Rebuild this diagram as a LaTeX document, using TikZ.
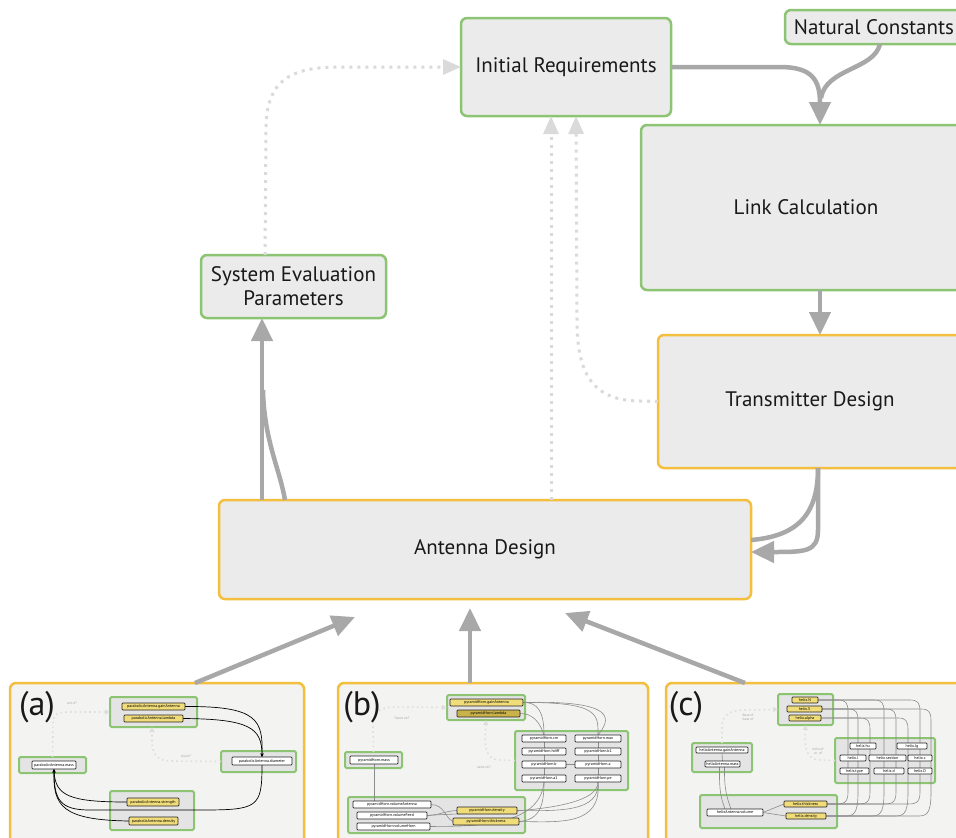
\documentclass[tikz,border=0pt]{standalone}
\usepackage{fontspec}
\setmainfont{PT Sans}
\usetikzlibrary{arrows.meta}
\definecolor{boxfill}{HTML}{EBEBEB}
\definecolor{grn}{HTML}{8CC474}
\definecolor{org}{HTML}{F4BE3E}
\definecolor{arr}{HTML}{A8A8A8}
\definecolor{dotc}{HTML}{DADADA}
\definecolor{pfill}{HTML}{F3F3F1}
\definecolor{gfill}{HTML}{E4E4E4}
\definecolor{ylw}{HTML}{F0DC78}
\definecolor{dylw}{HTML}{C9B24A}
\pgfdeclarelayer{back}
\pgfdeclarelayer{lines}
\pgfsetlayers{back,lines,main}
\newcommand{\pbox}[7]{%
  \pgfmathsetmacro\pbcx{(#3+#5)/2}%
  \pgfmathsetmacro\pbcy{(#4+#6)/2}%
  \pgfmathsetmacro\pbw{#5-#3}%
  \pgfmathsetmacro\pbh{#6-#4}%
  \node[#1, minimum width=\pbw pt, minimum height=\pbh pt, inner sep=0pt, outer sep=0pt] (#2) at (\pbcx,\pbcy) {#7};}
\begin{document}
\begin{tikzpicture}[x=1pt,y=-1pt,
  mainG/.style={draw=grn, line width=2.5pt, fill=boxfill, rounded corners=6pt, font=\fontsize{21}{24}\selectfont, text=black!90, align=center},
  mainO/.style={mainG, draw=org},
  panel/.style={draw=org, line width=2.5pt, fill=pfill, rounded corners=6pt},
  grp/.style={draw=grn, line width=2pt, fill=gfill, rounded corners=1.5pt},
  yn/.style={draw=black!85, line width=0.7pt, fill=ylw, rounded corners=0.8pt, font=\fontsize{4}{4}\selectfont},
  dyn/.style={yn, fill=dylw},
  wn/.style={yn, fill=white},
  flow/.style={draw=arr, line width=4.5pt, -{Triangle[length=23pt,width=21pt]}},
  flowline/.style={draw=arr, line width=4.5pt},
  dots/.style={draw=dotc, line width=3pt, dash pattern=on 3pt off 5pt, -{Triangle[length=18pt,width=15pt]}},
  blk/.style={draw=black, line width=0.7pt, -{Stealth[length=3.5pt,width=3pt]}},
  gry/.style={draw=black!45, line width=0.6pt},
  pd/.style={draw=black!13, line width=1.6pt, dash pattern=on 1.6pt off 3.2pt, -{Triangle[length=5pt,width=5pt]}},
  plbl/.style={font=\fontsize{3.5}{4}\selectfont, text=black!35, align=center},
  big/.style={font=\fontsize{34}{34}\selectfont, text=black!90}]
\begin{pgfonlayer}{back}
\clip (0,0) rectangle (956,838);
\fill[white] (0,0) rectangle (956,838);
\end{pgfonlayer}
\clip (0,0) rectangle (956,838);

% ---------- main boxes ----------
\pbox{mainG}{IR}{461}{18}{671}{116}{Initial Requirements}
\pbox{mainG}{NC}{785}{10}{963}{44}{Natural Constants}
\pbox{mainG}{LC}{641}{125}{971}{290}{Link Calculation}
\pbox{mainO}{TD}{658}{335}{962}{468}{Transmitter Design}
\pbox{mainG}{SE}{201}{255}{386}{318}{System Evaluation\\Parameters}
\pbox{mainO}{AD}{219}{500}{751}{599}{Antenna Design}

% ---------- main connectors ----------
\draw[flow] (IR.east) -- (780,67) .. controls (812,67) and (820,80) .. ([xshift=14pt]LC.north);
\draw[flowline] ([xshift=6pt]NC.south) .. controls (874,70) and (826,68) .. (821,98);
\draw[flow] ([xshift=14pt]LC.south) -- ([xshift=10pt]TD.north);
\draw[flowline] ([xshift=8pt]TD.south) .. controls (818,512) and (800,536) .. ([yshift=9.5pt]AD.east);
\draw[flow] ([xshift=8pt]TD.south) -- (818,530) .. controls (818,552) and (805,552) .. ([yshift=-2.5pt]AD.east);
\draw[flow] ([xshift=-223pt]AD.north) -- ([xshift=-31.5pt]SE.south);
\draw[flowline] ([xshift=-200pt]AD.north) .. controls (280,470) and (264,440) .. (263,390);

\draw[dots] ([xshift=-28.5pt]SE.north) -- (266,130) .. controls (266,80) and (290,67) .. (340,67) -- (IR.west);
\draw[dots] ([xshift=66pt]AD.north) -- ([xshift=-15pt]IR.south);
\draw[dots] (TD.west) -- (640,401) .. controls (590,401) and (577,370) .. (577,320) -- ([xshift=10pt]IR.south);

% ---------- panels ----------
\begin{pgfonlayer}{back}
\pbox{panel}{pa}{10}{683}{304}{850}{}
\pbox{panel}{pb}{338}{683}{648}{850}{}
\pbox{panel}{pc}{666}{683}{990}{850}{}
\pbox{grp}{aT}{110}{697}{197}{727}{}
\pbox{grp}{aR}{221}{751}{296}{772}{}
\pbox{grp}{aL}{19}{757}{86}{773}{}
\pbox{grp}{aB}{110}{791}{194}{830}{}
\pbox{grp}{bT}{447}{695}{525}{720}{}
\pbox{grp}{bR}{515}{731}{628}{790}{}
\pbox{grp}{bL}{345}{752}{402}{768}{}
\pbox{grp}{bB}{348}{797}{525}{833}{}
\pbox{grp}{cT}{778}{694}{833}{725}{}
\pbox{grp}{cL}{692}{743}{752}{772}{}
\pbox{grp}{cR}{835}{738}{935}{783}{}
\pbox{grp}{cB}{700}{795}{837}{828}{}
\end{pgfonlayer}

\draw[flow] ([xshift=38pt]pa.north) -- ([xshift=-130pt,yshift=-18pt]AD.south);
\draw[flow] ([xshift=-23pt]pb.north) -- ([xshift=-15pt,yshift=-9pt]AD.south);
\draw[flow] ([xshift=-83pt]pc.north) -- ([xshift=80pt,yshift=-14pt]AD.south);

\node[big] (la) at (37,707) {(a)};
\node[big] (lb) at (362,707) {(b)};
\node[big] (lc) at (686,707) {(c)};

% ---------- panel (a) ----------
\pbox{yn}{a1}{122}{703}{185}{710}{parabolicAntenna.gainAntenna}
\pbox{yn}{a2}{124}{715}{183}{722}{parabolicAntenna.lambda}
\pbox{wn}{a3}{232}{757}{292}{765}{parabolicAntenna.diameter}
\pbox{wn}{a4}{32}{761}{76}{769}{parabolicAntenna.mass}
\pbox{yn}{a5}{127}{798}{179}{806}{parabolicAntenna.strength}
\pbox{yn}{a6}{129}{817}{178}{825}{parabolicAntenna.density}
\node[plbl] (ta1) at (72,703) {a=b d?};
\node[plbl] (ta2) at (186,756) {d/a=b?};
\begin{pgfonlayer}{lines}
\draw[pd] (aL.north) -- (53,722) .. controls (53,714) and (58,712) .. (70,712) -- (aT.west);
\draw[pd] (aR.west) -- (170,761) .. controls (156,761) and (152,752) .. (152,742) -- ([xshift=-1.5pt]aT.south);
\draw[blk] (a1.east) .. controls (258,706) and (263,720) .. (a3.north);
\draw[blk] (a2.east) .. controls (250,719) and (262,728) .. (a3.north);
\draw[blk] (a3.south) .. controls (262,808) and (258,810) .. (200,810) -- (90,810) .. controls (60,810) and (54,800) .. (a4.south);
\draw[blk] (a5.west) .. controls (70,802) and (55,796) .. (a4.south);
\draw[blk] (a6.west) .. controls (62,820) and (53,806) .. (a4.south);
\end{pgfonlayer}

% ---------- panel (b) ----------
\pbox{yn}{b1}{450}{699}{523}{706}{pyramidHorn.gainAntenna}
\pbox{dyn}{b2}{457}{710}{520}{717}{pyramidHorn.lambda}
\pbox{wn}{b3}{522}{735}{566}{742}{pyramidHorn.cm}
\pbox{wn}{b4}{575}{735}{621}{742}{pyramidHorn.max}
\pbox{wn}{b5}{522}{748}{566}{755}{pyramidHorn.hdiff}
\pbox{wn}{b6}{575}{748}{621}{755}{pyramidHorn.b1}
\pbox{wn}{b7}{522}{761}{566}{768}{pyramidHorn.b}
\pbox{wn}{b8}{575}{761}{621}{768}{pyramidHorn.a}
\pbox{wn}{b9}{522}{775}{566}{782}{pyramidHorn.a1}
\pbox{wn}{b10}{575}{775}{621}{782}{pyramidHorn.pe}
\pbox{wn}{b11}{350}{756}{398}{764}{pyramidHorn.mass}
\pbox{wn}{b12}{353}{801}{431}{808}{pyramidHorn.volumeAntenna}
\pbox{wn}{b13}{357}{812}{427}{819}{pyramidHorn.volumeFeed}
\pbox{wn}{b14}{357}{823}{430}{830}{pyramidHorn.volumeHorn}
\pbox{yn}{b15}{457}{807}{517}{814}{pyramidHorn.density}
\pbox{yn}{b16}{453}{818}{519}{825}{pyramidHorn.thickness}
\node[plbl] (tb1) at (402,718) {frame ok?};
\node[plbl] (tb2) at (484,767) {taste ok?};
\begin{pgfonlayer}{lines}
\draw[pd] (bL.north) -- (373,725) .. controls (373,712) and (380,707) .. (395,707) -- (bT.west);
\draw[pd] (bR.west) -- (500,760) .. controls (488,760) and (485,750) .. (485,738) -- (bT.south);
\draw[gry] (b1.east) .. controls (600,702) and (598,715) .. (b4.north);
\draw[gry] (b1.east) .. controls (538,702) and (544,712) .. (b3.north);
\draw[gry] (b2.east) .. controls (532,713) and (540,722) .. (b3.north);
\draw[gry] (b1.east) .. controls (620,700) and (610,720) .. (b4.north);
\draw[gry] (b3.south) -- (b5.north);
\draw[gry] (b5.south) -- (b7.north);
\draw[gry] (b7.south) -- (b9.north);
\draw[gry] (b4.south) -- (b6.north);
\draw[gry] (b6.south) -- (b8.north);
\draw[gry] (b8.south) -- (b10.north);
\draw[gry] (b7.east) -- (b8.west);
\draw[gry] (b9.south) .. controls (544,805) and (540,820) .. (b16.east);
\draw[gry] (b10.south) .. controls (600,812) and (560,811) .. (b15.east);
\draw[gry] (b10.south) .. controls (602,826) and (560,822) .. (b16.east);
\draw[gry] (b10.south) .. controls (598,815) and (470,812) .. (b13.east);
\draw[gry] (b9.south) .. controls (540,828) and (470,826) .. (b14.east);
\draw[gry] (b11.south) -- ([xshift=-18pt]b12.north);
\draw[gry] (b12.east) .. controls (445,805) and (445,818) .. (b16.west);
\draw[gry] (b13.east) .. controls (440,815) and (445,811) .. (b15.west);
\end{pgfonlayer}

% ---------- panel (c) ----------
\pbox{yn}{c1}{792}{697}{818}{703}{helix.N}
\pbox{yn}{c2}{787}{706}{822}{712}{helix.S}
\pbox{yn}{c3}{789}{715}{821}{721}{helix.alpha}
\pbox{wn}{c4}{696}{747}{748}{753}{helixAntenna.gainAntenna}
\pbox{wn}{c5}{705}{761}{740}{767}{helixAntenna.mass}
\pbox{wn}{c6}{850}{743}{876}{749}{helix.hu}
\pbox{wn}{c7}{897}{743}{927}{749}{helix.lg}
\pbox{wn}{c8}{840}{755}{866}{761}{helix.l}
\pbox{wn}{c9}{869}{755}{906}{761}{helix.section}
\pbox{wn}{c10}{908}{755}{932}{761}{helix.c}
\pbox{wn}{c11}{840}{768}{869}{774}{helix.type}
\pbox{wn}{c12}{874}{768}{904}{774}{helix.d}
\pbox{wn}{c13}{908}{768}{932}{774}{helix.D}
\pbox{wn}{c14}{707}{809}{763}{816}{helixAntenna.volume}
\pbox{yn}{c15}{784}{801}{827}{807}{helix.thickness}
\pbox{yn}{c16}{786}{813}{826}{819}{helix.density}
\node[plbl] (tc1) at (748,717) {Base of\\base of};
\node[plbl] (tc2) at (818,751) {helix.of\\sz. of};
\begin{pgfonlayer}{lines}
\draw[pd] (cL.north) -- (722,727) .. controls (722,715) and (730,710) .. (745,710) -- (cT.west);
\draw[pd] (cR.west) -- (820,760) .. controls (808,760) and (805,750) .. (805,738) -- (cT.south);
\foreach \xx/\s/\ys/\d/\yd in {848/c1/700/c15/804, 858/c2/709/c16/816, 870/c3/718/c15/804, 884/c1/700/c16/816, 896/c2/709/c15/804, 908/c3/718/c16/816, 920/c1/700/c15/804, 931/c2/709/c16/816}
  \draw[gry] (\s.east) -- ({\xx-10},\ys) .. controls ({\xx-2},\ys) and (\xx,{\ys+3}) .. (\xx,{\ys+12}) -- (\xx,792) .. controls (\xx,\yd) and ({\xx-5},\yd) .. ({\xx-15},\yd) -- (\d.east);
\draw[gry] ([xshift=-3pt]c5.south) .. controls (719,795) and (722,800) .. ([xshift=-10pt]c14.north);
\draw[gry] ([xshift=2pt]c5.south) .. controls (724,792) and (728,800) .. ([xshift=-4pt]c14.north);
\draw[gry] (c14.east) -- (c15.west);
\draw[gry] (c14.east) -- (c16.west);
\draw[gry] (c4.south) -- (c5.north);
\end{pgfonlayer}
\end{tikzpicture}
\end{document}
